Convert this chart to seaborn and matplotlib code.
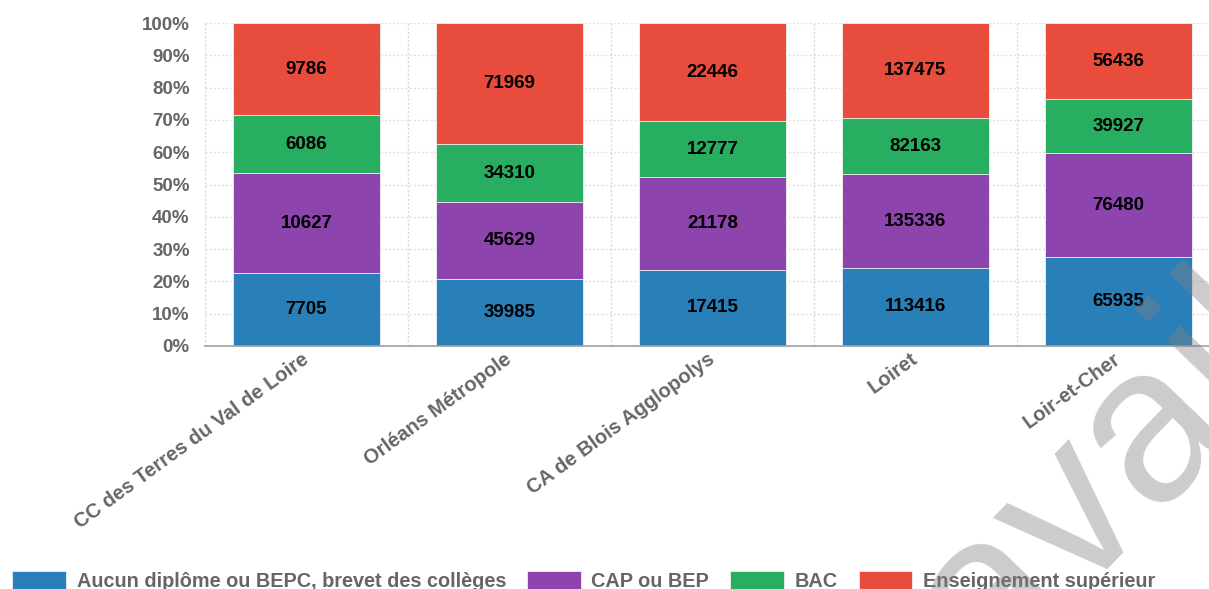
import matplotlib
matplotlib.use("Agg")
import matplotlib.pyplot as plt
import matplotlib.patches as mpatches
import numpy as np
import seaborn as sns

# data
territoires = ["CC des Terres du Val de Loire", "Orléans Métropole", "CA de Blois Agglopolys",
               "Loiret", "Loir-et-Cher"]
aucun = [7705, 39985, 17415, 113416, 65935]
cap_bep = [10627, 45629, 21178, 135336, 76480]
bac = [6086, 34310, 12777, 82163, 39927]
superieur = [9786, 71969, 22446, 137475, 56436]
series_names = ["Aucun diplôme ou BEPC, brevet des collèges", "CAP ou BEP", "BAC",
                "Enseignement supérieur"]
colors = ["#2980b9", "#8e44ad", "#27ae60", "#e74c3c"]

sns.set_style("white")
plt.rcParams['font.family'] = ['Liberation Sans', 'DejaVu Sans']
plt.rcParams['font.weight'] = 'bold'

counts = np.array([aucun, cap_bep, bac, superieur], dtype=float)
pct = counts / counts.sum(axis=0) * 100
cum = pct.cumsum(axis=0)

fig = plt.figure(figsize=(12.09, 5.89), dpi=100)
ax = fig.add_axes([205 / 1209, 1 - 346 / 589, 1 - 205 / 1209, (346 - 23) / 589])

# stacked: draw tallest cumulative first
for i in range(3, -1, -1):
    sns.barplot(x=territoires, y=cum[i], order=territoires, color=colors[i], saturation=1,
                width=0.72, ax=ax, edgecolor="#f4f4f4", linewidth=0.6, zorder=2)

# segment labels
for i in range(4):
    for j in range(len(territoires)):
        mid = cum[i, j] - pct[i, j] / 2
        ax.text(j, mid, "{}".format(int(counts[i, j])), ha="center", va="center",
                fontsize=13.5, fontweight="bold", color="black", zorder=4)

ax.set_yticks(np.arange(0, 101, 10))
ax.set_yticklabels(["{}%".format(v) for v in range(0, 101, 10)])
ax.set_xticks(np.arange(-0.5, 5, 1), minor=True)
ax.set_ylim(0, 100)
ax.set_xlim(-0.5, 4.446)
ax.set_xlabel("")
ax.set_ylabel("")

ax.grid(axis="y", which="major", color="#e0e0e0", linestyle=(0, (1.5, 1.5)), linewidth=1, zorder=0)
ax.grid(axis="x", which="minor", color="#d8d8d8", linestyle=(0, (1.5, 1.5)), linewidth=1, zorder=0)
ax.set_axisbelow(True)

for s in ["top", "right", "left"]:
    ax.spines[s].set_visible(False)
ax.spines["bottom"].set_color("#a0a0a0")
ax.spines["bottom"].set_linewidth(1.2)

ax.tick_params(axis="y", which="major", length=11, color="#e0e0e0", pad=0,
               labelsize=13.5, labelcolor="#666666")
ax.tick_params(axis="x", which="major", length=0, pad=8, labelsize=14.5, labelcolor="#666666")
ax.tick_params(axis="x", which="minor", length=8, color="#d8d8d8", width=1)
for lab in ax.get_xticklabels():
    lab.set_rotation(36)
    lab.set_ha("right")
    lab.set_va("center")
    lab.set_rotation_mode("anchor")
    lab.set_fontweight("bold")
for lab in ax.get_yticklabels():
    lab.set_fontweight("bold")

handles = [mpatches.Patch(facecolor=c, edgecolor="#eeeeee", linewidth=0.6) for c in colors]
fig.legend(handles, series_names, loc="lower left", bbox_to_anchor=(12 / 1209, -0.004), ncol=4,
           frameon=False, borderaxespad=0, borderpad=0, handlelength=2.7, handleheight=1.1,
           handletextpad=0.55, columnspacing=1.05, prop={"size": 14.3, "weight": "bold"},
           labelcolor="#666666")

# watermark
fig.text(989 / 1209, 1 - 682 / 589, "available", fontsize=160, color="gray", alpha=0.4,
         rotation=46, rotation_mode="anchor", ha="left", va="baseline", zorder=10,
         family="Liberation Sans", fontweight="normal")

fig.savefig("out.png", dpi=100)
